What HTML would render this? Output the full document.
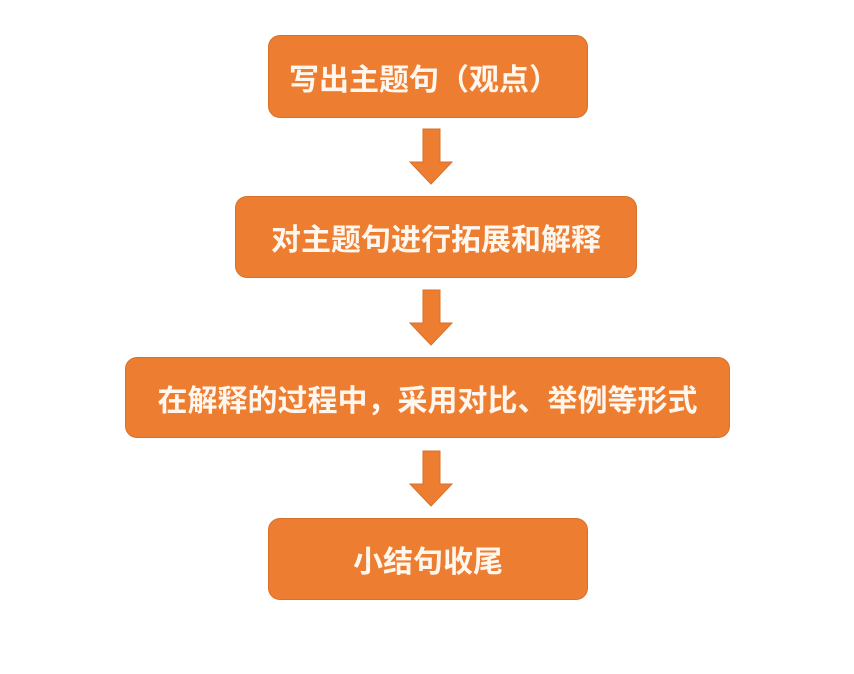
<!DOCTYPE html>
<html><head><meta charset="utf-8"><style>
body{margin:0;width:854px;height:674px;background:#fff;position:relative;overflow:hidden;font-family:"Liberation Sans","Noto Sans CJK SC",sans-serif}
.b{position:absolute;background:#ED7D31;border:1px solid #D9702A;border-radius:12px;color:#FFF6EE;font-weight:bold;font-size:30px;display:flex;align-items:center;justify-content:center;box-sizing:border-box;white-space:nowrap}
svg{position:absolute;left:0;top:0}
</style></head><body>
<div class="b" style="left:268px;top:35px;width:320px;height:83px;padding-right:8px">写出主题句（观点）</div>
<div class="b" style="left:235px;top:196px;width:402px;height:82px">对主题句进行拓展和解释</div>
<div class="b" style="left:125px;top:357px;width:605px;height:81px">在解释的过程中，采用对比、举例等形式</div>
<div class="b" style="left:268px;top:518px;width:320px;height:82px">小结句收尾</div>
<svg width="854" height="674">
<g fill="#ED7D31" stroke="#D9702A" stroke-width="1">
<polygon points="423,129 440,129 440,162 452,162 431,184 410,162 423,162"/>
<polygon points="423,290 440,290 440,323 452,323 431,345 410,323 423,323"/>
<polygon points="423,451 440,451 440,484 452,484 431,506 410,484 423,484"/>
</g></svg>
</body></html>
